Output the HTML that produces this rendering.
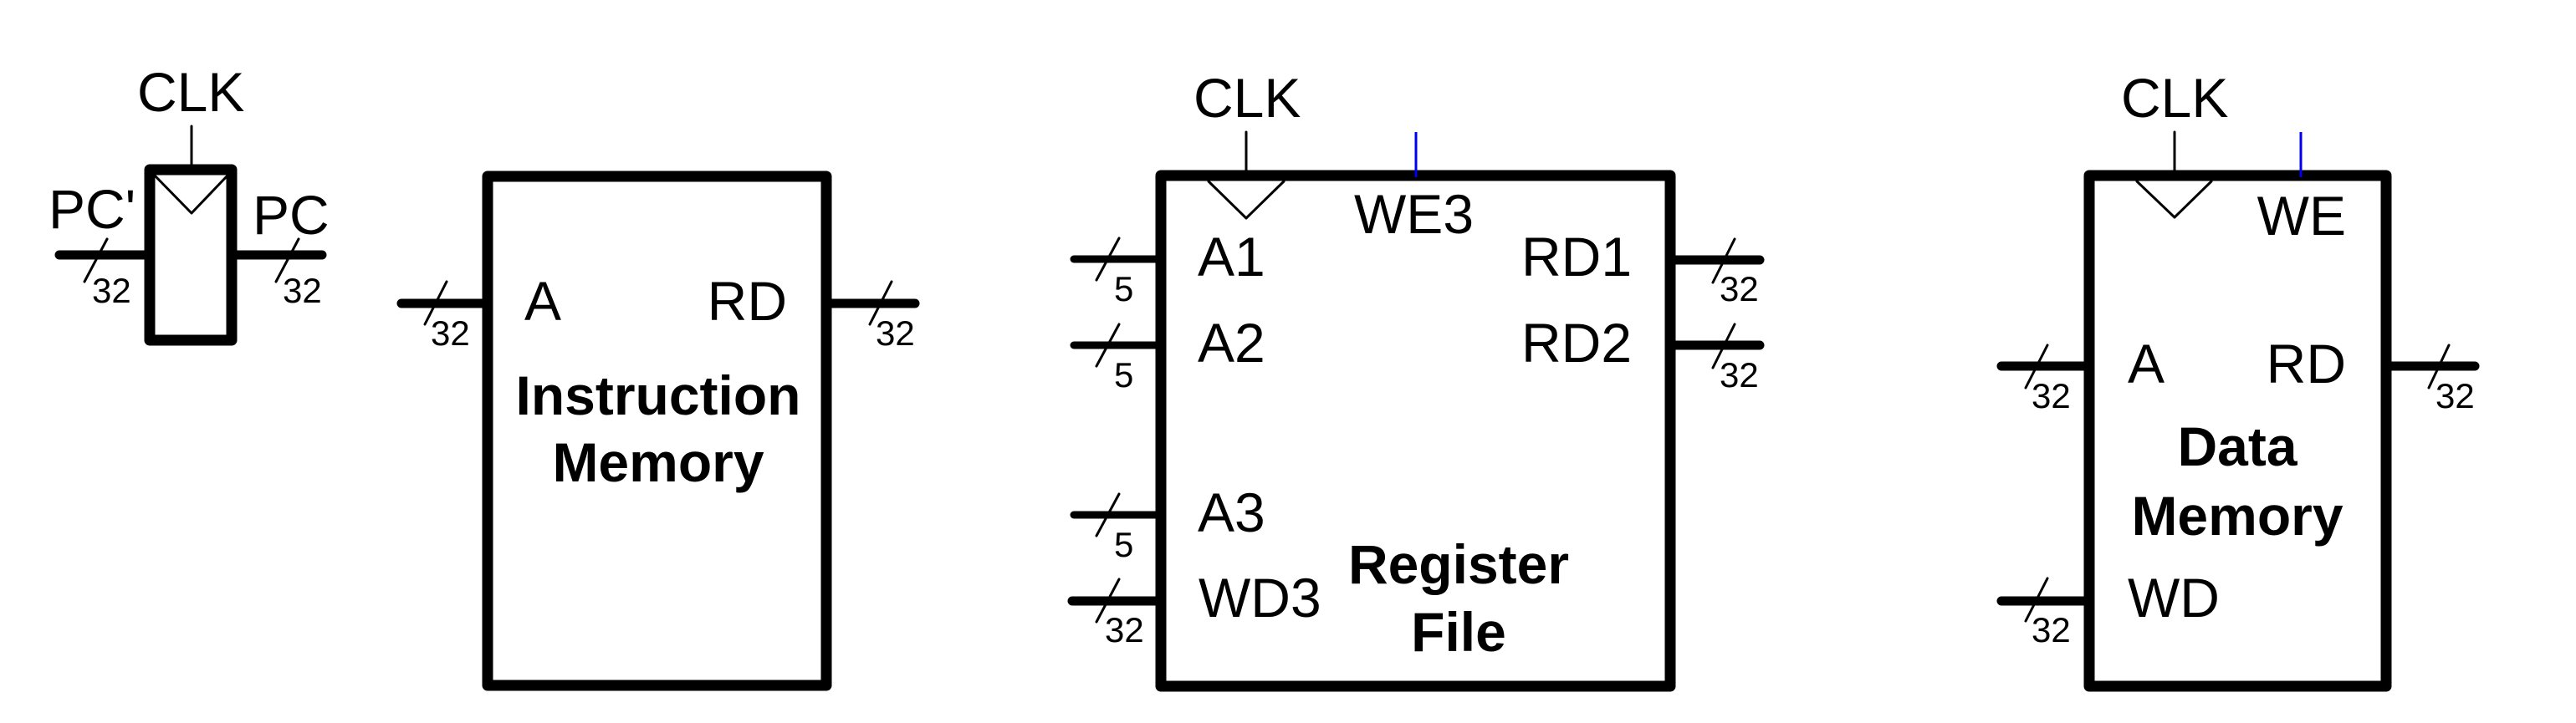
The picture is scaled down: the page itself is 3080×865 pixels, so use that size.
<!DOCTYPE html>
<html><head><meta charset="utf-8"><style>
html,body{margin:0;padding:0;background:#fff;}
svg{display:block;}
text{font-family:"Liberation Sans",Arial,sans-serif;fill:#000;}
.l{font-size:66px;}
.s{font-size:42px;}
.b{font-size:66px;font-weight:bold;}
</style></head><body>
<svg width="3080" height="865" viewBox="0 0 3080 865" xmlns="http://www.w3.org/2000/svg">
<g fill="none" stroke="#000" stroke-linecap="round" stroke-linejoin="round">
<!-- PC register -->
<rect x="179" y="203" width="98" height="204" stroke-width="13"/>
<line x1="229" y1="151" x2="229" y2="203" stroke-width="3"/>
<polyline points="185,210 229,255 272,210" stroke-width="3"/>
<line x1="71" y1="305" x2="172" y2="305" stroke-width="11"/>
<line x1="128" y1="286" x2="101" y2="337" stroke-width="3"/>
<line x1="284" y1="305" x2="385" y2="305" stroke-width="11"/>
<line x1="357" y1="286" x2="330" y2="337" stroke-width="3"/>
<!-- Instruction memory -->
<rect x="583" y="211" width="405" height="609" stroke-width="13"/>
<line x1="480" y1="363" x2="577" y2="363" stroke-width="11"/>
<line x1="534" y1="337" x2="508" y2="388" stroke-width="3"/>
<line x1="994" y1="363" x2="1094" y2="363" stroke-width="11"/>
<line x1="1066" y1="337" x2="1040" y2="388" stroke-width="3"/>
<!-- Register file -->
<rect x="1388" y="210" width="609" height="611" stroke-width="13"/>
<line x1="1490" y1="158" x2="1490" y2="205" stroke-width="3"/>
<polyline points="1445,217 1490,261 1535,217" stroke-width="3"/>
<line x1="1693" y1="158" x2="1693" y2="212" stroke="#0000ee" stroke-width="3" stroke-linecap="butt"/>
<line x1="1284" y1="310" x2="1382" y2="310" stroke-width="9"/>
<line x1="1338" y1="285" x2="1311" y2="335" stroke-width="3"/>
<line x1="1284" y1="413" x2="1382" y2="413" stroke-width="9"/>
<line x1="1338" y1="388" x2="1311" y2="438" stroke-width="3"/>
<line x1="1284" y1="616" x2="1382" y2="616" stroke-width="9"/>
<line x1="1338" y1="591" x2="1311" y2="641" stroke-width="3"/>
<line x1="1282" y1="719" x2="1382" y2="719" stroke-width="11"/>
<line x1="1338" y1="693" x2="1311" y2="744" stroke-width="3"/>
<line x1="2003" y1="311" x2="2104" y2="311" stroke-width="11"/>
<line x1="2074" y1="286" x2="2048" y2="338" stroke-width="3"/>
<line x1="2003" y1="413" x2="2104" y2="413" stroke-width="11"/>
<line x1="2074" y1="388" x2="2048" y2="440" stroke-width="3"/>
<!-- Data memory -->
<rect x="2498" y="210" width="355" height="611" stroke-width="13"/>
<line x1="2600" y1="158" x2="2600" y2="205" stroke-width="3"/>
<polyline points="2555,217 2600,260 2644,217" stroke-width="3"/>
<line x1="2751" y1="158" x2="2751" y2="212" stroke="#0000ee" stroke-width="3" stroke-linecap="butt"/>
<line x1="2393" y1="438" x2="2492" y2="438" stroke-width="11"/>
<line x1="2448" y1="413" x2="2422" y2="464" stroke-width="3"/>
<line x1="2393" y1="719" x2="2492" y2="719" stroke-width="11"/>
<line x1="2448" y1="692" x2="2422" y2="743" stroke-width="3"/>
<line x1="2859" y1="438" x2="2959" y2="438" stroke-width="11"/>
<line x1="2928" y1="413" x2="2904" y2="464" stroke-width="3"/>
</g>
<!-- texts -->
<text class="l" x="164" y="133">CLK</text>
<text class="l" x="58" y="273">PC'</text>
<text class="l" x="302" y="280">PC</text>
<text class="s" x="110" y="362">32</text>
<text class="s" x="338" y="362">32</text>

<text class="l" x="627" y="383">A</text>
<text class="l" x="941" y="383" text-anchor="end">RD</text>
<text class="s" x="515" y="413">32</text>
<text class="s" x="1047" y="413">32</text>
<text class="b" x="787" y="496" text-anchor="middle">Instruction</text>
<text class="b" x="787" y="576" text-anchor="middle">Memory</text>

<text class="l" x="1427" y="140">CLK</text>
<text class="l" x="1619" y="279">WE3</text>
<text class="l" x="1432" y="330">A1</text>
<text class="l" x="1432" y="433">A2</text>
<text class="l" x="1432" y="636">A3</text>
<text class="l" x="1433" y="738">WD3</text>
<text class="l" x="1819" y="330">RD1</text>
<text class="l" x="1819" y="433">RD2</text>
<text class="s" x="1332" y="360">5</text>
<text class="s" x="1332" y="463">5</text>
<text class="s" x="1332" y="666">5</text>
<text class="s" x="1321" y="768">32</text>
<text class="s" x="2056" y="360">32</text>
<text class="s" x="2056" y="463">32</text>
<text class="b" x="1744" y="698" text-anchor="middle">Register</text>
<text class="b" x="1744" y="779" text-anchor="middle">File</text>

<text class="l" x="2536" y="140">CLK</text>
<text class="l" x="2805" y="281" text-anchor="end">WE</text>
<text class="l" x="2544" y="458">A</text>
<text class="l" x="2805" y="458" text-anchor="end">RD</text>
<text class="l" x="2544" y="738">WD</text>
<text class="s" x="2429" y="488">32</text>
<text class="s" x="2429" y="768">32</text>
<text class="s" x="2912" y="488">32</text>
<text class="b" x="2675" y="557" text-anchor="middle">Data</text>
<text class="b" x="2675" y="640" text-anchor="middle">Memory</text>
</svg>
</body></html>
